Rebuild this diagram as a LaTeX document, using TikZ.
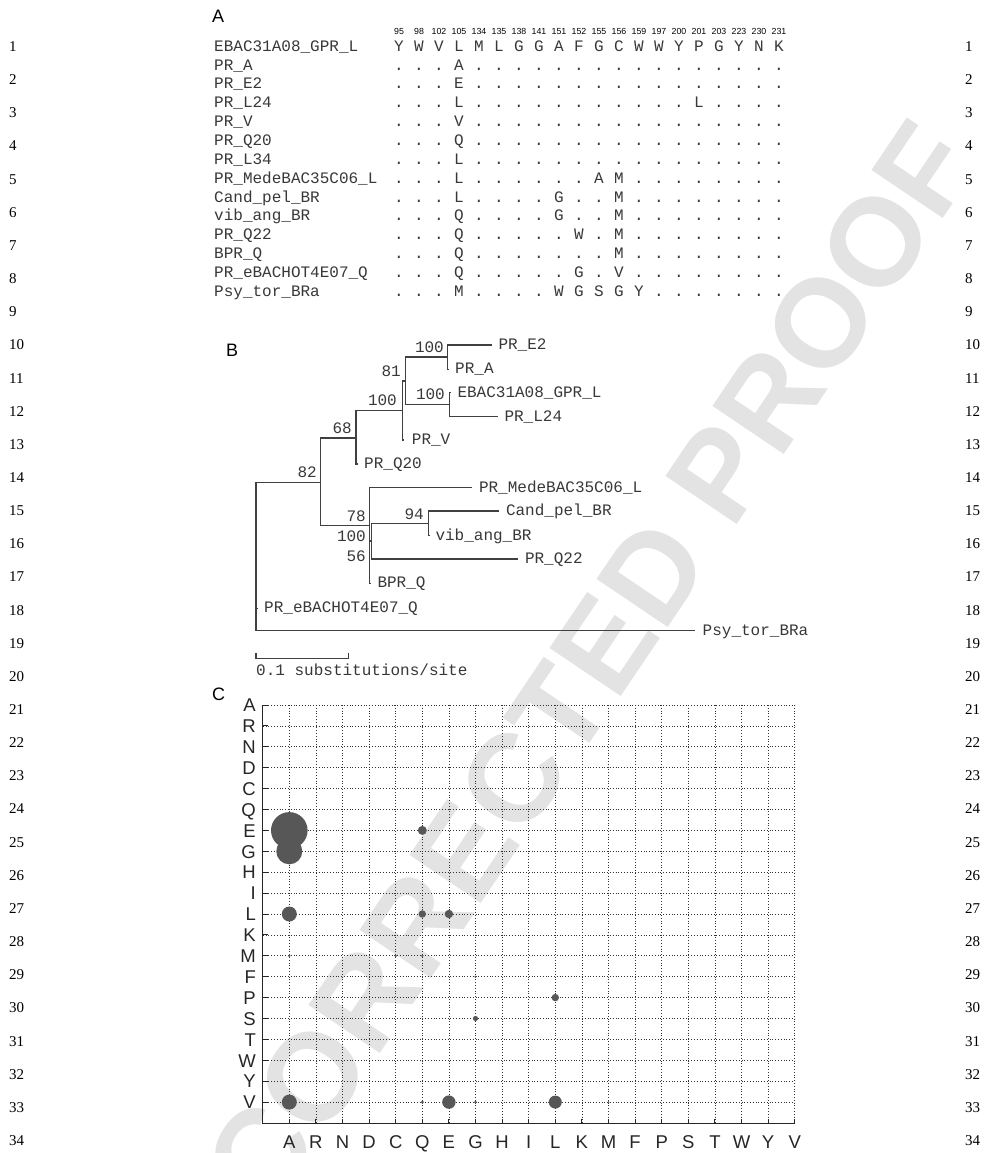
\documentclass[tikz,border=0pt]{standalone}
\usepackage{fontspec}
\newfontfamily\monof{Liberation Mono}
\newfontfamily\sansf{Liberation Sans}
\newfontfamily\seriff{Liberation Serif}
\usetikzlibrary{calc}
\newcommand\alnrow[3]{%
  \node[mono, anchor=base west] (nm#1) at (214,{51.2+18.85*#1}) {#2};
  \foreach \r [count=\i from 0] in {#3} {\node[mono, anchor=base] (r#1c\i) at ({399+20*\i},{51.2+18.85*#1}) {\r};}%
}
\begin{document}
\begin{tikzpicture}[x=1pt,y=-1pt,
  mono/.style={font=\monof\fontsize{16}{16}\selectfont, text=black!78, inner sep=0pt},
  hdr/.style={font=\sansf\fontsize{8.8}{9}\selectfont, text=black, inner sep=0pt},
  panel/.style={font=\sansf\fontsize{18}{18}\selectfont, inner sep=0pt},
  axlab/.style={font=\sansf\fontsize{18.5}{18.5}\selectfont, text=black!85, inner sep=0pt},
  lnum/.style={font=\seriff\fontsize{15}{15}\selectfont, inner sep=0pt},
  tree/.style={line width=1.1pt, draw=black!75},
  boot/.style={mono, anchor=base east},
  leaf/.style={mono, anchor=base west},
  dotgrid/.style={line width=0.7pt, draw=black!80, dash pattern=on 0.8pt off 2pt},
  axis/.style={line width=1.2pt, draw=black!85},
  bub/.style={fill=black!66}]
\useasboundingbox (0,0) rectangle (988,1153);
% watermark
\node[rotate=56, text=black!11, font=\sansf\bfseries\fontsize{125}{125}\selectfont, inner sep=0pt] (wm) at (540,740) {UNCORRECTED PROOF};
% line numbers
\foreach \n in {1,...,34} {
  \node[lnum, anchor=base west] (ll\n) at (9,{51.5+33.15*(\n-1)}) {\n};
  \node[lnum, anchor=base west] (lr\n) at (965,{51.5+33.15*(\n-1)}) {\n};
}
% ---------- Panel A
\node[panel, anchor=base west] (labA) at (212,23) {A};
\foreach \n [count=\i from 0] in {95,98,102,105,134,135,138,141,151,152,155,156,159,197,200,201,203,223,230,231}
  \node[hdr] (h\i) at ({399+20*\i},31.2) {\n};
\alnrow{0}{EBAC31A08\_GPR\_L}{Y,W,V,L,M,L,G,G,A,F,G,C,W,W,Y,P,G,Y,N,K}
\alnrow{1}{PR\_A}{.,.,.,A,.,.,.,.,.,.,.,.,.,.,.,.,.,.,.,.}
\alnrow{2}{PR\_E2}{.,.,.,E,.,.,.,.,.,.,.,.,.,.,.,.,.,.,.,.}
\alnrow{3}{PR\_L24}{.,.,.,L,.,.,.,.,.,.,.,.,.,.,.,L,.,.,.,.}
\alnrow{4}{PR\_V}{.,.,.,V,.,.,.,.,.,.,.,.,.,.,.,.,.,.,.,.}
\alnrow{5}{PR\_Q20}{.,.,.,Q,.,.,.,.,.,.,.,.,.,.,.,.,.,.,.,.}
\alnrow{6}{PR\_L34}{.,.,.,L,.,.,.,.,.,.,.,.,.,.,.,.,.,.,.,.}
\alnrow{7}{PR\_MedeBAC35C06\_L}{.,.,.,L,.,.,.,.,.,.,A,M,.,.,.,.,.,.,.,.}
\alnrow{8}{Cand\_pel\_BR}{.,.,.,L,.,.,.,.,G,.,.,M,.,.,.,.,.,.,.,.}
\alnrow{9}{vib\_ang\_BR}{.,.,.,Q,.,.,.,.,G,.,.,M,.,.,.,.,.,.,.,.}
\alnrow{10}{PR\_Q22}{.,.,.,Q,.,.,.,.,.,W,.,M,.,.,.,.,.,.,.,.}
\alnrow{11}{BPR\_Q}{.,.,.,Q,.,.,.,.,.,.,.,M,.,.,.,.,.,.,.,.}
\alnrow{12}{PR\_eBACHOT4E07\_Q}{.,.,.,Q,.,.,.,.,.,G,.,V,.,.,.,.,.,.,.,.}
\alnrow{13}{Psy\_tor\_BRa}{.,.,.,M,.,.,.,.,W,G,S,G,Y,.,.,.,.,.,.,.}
% ---------- Panel B
\node[panel, anchor=base west] (labB) at (226,356) {B};
\coordinate (root) at (256,556.5);
\coordinate (n82) at (320.7,482.3);
\coordinate (n68) at (356,438);
\coordinate (n100a) at (402.7,410.5);
\coordinate (n81) at (405.7,381);
\coordinate (nE2A) at (447.3,357);
\coordinate (nEBL) at (449.3,404.7);
\coordinate (nX) at (369.3,525.7);
\coordinate (nY) at (371.7,541);
\coordinate (n94) at (428.3,523.3);
\coordinate (tE2) at (492.3,345);
\coordinate (tA) at (449,369.3);
\coordinate (tEB) at (450.8,392.7);
\coordinate (tL24) at (498.3,416.7);
\coordinate (tV) at (404.2,440);
\coordinate (tQ20) at (357.5,464);
\coordinate (tMede) at (472.3,487.7);
\coordinate (tCand) at (499.3,511);
\coordinate (tvib) at (429.8,535.7);
\coordinate (tQ22) at (518.3,559);
\coordinate (tBPR) at (370.8,583.3);
\coordinate (teB) at (257.5,608.3);
\coordinate (tPsy) at (695,630.7);
\draw[tree] (root) |- (n82);
\draw[tree] (root) |- (teB);
\draw[tree] (root) |- (tPsy);
\draw[tree] (n82) |- (n68);
\draw[tree] (n82) |- (nX);
\draw[tree] (n68) |- (n100a);
\draw[tree] (n68) |- (tQ20);
\draw[tree] (n100a) |- (n81);
\draw[tree] (n100a) |- (tV);
\draw[tree] (n81) |- (nE2A);
\draw[tree] (n81) |- (nEBL);
\draw[tree] (nE2A) |- (tE2);
\draw[tree] (nE2A) |- (tA);
\draw[tree] (nEBL) |- (tEB);
\draw[tree] (nEBL) |- (tL24);
\draw[tree] (nX) |- (tMede);
\draw[tree] (nX) |- (nY);
\draw[tree] (nX) |- (tBPR);
\draw[tree] (nY) |- (n94);
\draw[tree] (nY) |- (tQ22);
\draw[tree] (n94) |- (tCand);
\draw[tree] (n94) |- (tvib);
\node[leaf] (lE2) at ($(tE2)+(6,4.5)$) {PR\_E2};
\node[leaf] (lA) at ($(tA)+(6,4.5)$) {PR\_A};
\node[leaf] (lEB) at ($(tEB)+(6.5,4.5)$) {EBAC31A08\_GPR\_L};
\node[leaf] (lL24) at ($(tL24)+(6,4.5)$) {PR\_L24};
\node[leaf] (lV) at ($(tV)+(7.5,4.5)$) {PR\_V};
\node[leaf] (lQ20) at ($(tQ20)+(6.5,4.5)$) {PR\_Q20};
\node[leaf] (lMede) at ($(tMede)+(6.5,4.5)$) {PR\_MedeBAC35C06\_L};
\node[leaf] (lCand) at ($(tCand)+(6.5,4.5)$) {Cand\_pel\_BR};
\node[leaf] (lvib) at ($(tvib)+(5.5,4.5)$) {vib\_ang\_BR};
\node[leaf] (lQ22) at ($(tQ22)+(6.5,4.5)$) {PR\_Q22};
\node[leaf] (lBPR) at ($(tBPR)+(6.5,4.5)$) {BPR\_Q};
\node[leaf] (leB) at ($(teB)+(6.5,4.5)$) {PR\_eBACHOT4E07\_Q};
\node[leaf] (lPsy) at ($(tPsy)+(7.5,4.5)$) {Psy\_tor\_BRa};
\node[boot] (bE2A) at (444,352.5) {100};
\node[boot] (b81) at (401,376.8) {81};
\node[boot] (b100a) at (397,405.2) {100};
\node[boot] (bEBL) at (445,399.5) {100};
\node[boot] (b68) at (352,433.8) {68};
\node[boot] (b82) at (317,477.8) {82};
\node[boot] (b78) at (366,521.2) {78};
\node[boot] (b100b) at (366,541.2) {100};
\node[boot] (b56) at (366,561.8) {56};
\node[boot] (b94) at (424,519.5) {94};
\coordinate (sb1) at (256,658.3);
\coordinate (sb2) at (348.3,658.3);
\draw[tree] ($(sb1)+(0,-5)$) -- (sb1) -- (sb2) -- ($(sb2)+(0,-5)$);
\node[mono, anchor=base west] (sblab) at (256,675.5) {0.1 substitutions/site};
% ---------- Panel C
\node[panel, anchor=base west] (labC) at (212,700) {C};
\foreach \j in {0,...,19} \draw[dotgrid] (262.7,{705+20.9*\j}) -- (794.7,{705+20.9*\j});
\foreach \i in {0,...,19} \draw[dotgrid] ({289.3+26.6*\i},705) -- ({289.3+26.6*\i},1123);
\draw[axis] (262.7,705) -- (262.7,1123.5) -- (794.7,1123.5);
\foreach \j in {0,...,19} \draw[axis, line width=0.9pt] (262.7,{705+20.9*\j}) -- (267.5,{705+20.9*\j});
\foreach \i in {0,...,19} \draw[axis, line width=0.9pt] ({289.3+26.6*\i},1123.5) -- ({289.3+26.6*\i},1118.5);
\foreach \a [count=\j from 0] in {A,R,N,D,C,Q,E,G,H,I,L,K,M,F,P,S,T,W,Y,V} {
  \node[axlab, anchor=base east] (row\j) at (256,{705+20.9*\j+6.7}) {\a};
  \node[axlab, anchor=base] (col\j) at ({289.3+26.6*\j},1148.4) {\a};
}
\foreach \c/\r/\s in {0/6/18.3, 0/7/13, 5/6/4.5, 0/10/7.5, 5/10/3.7, 6/10/4.2, 0/12/1.3, 4/12/1.3, 5/12/1.3, 7/13/1.1, 10/14/3.7, 7/15/2.6, 0/19/7.5, 5/19/1.6, 6/19/6.7, 7/19/1.6, 10/19/6.5, 12/19/1.1}
  \fill[bub] ({289.3+26.6*\c},{705+20.9*\r}) circle[radius=\s pt];
\end{tikzpicture}
\end{document}
